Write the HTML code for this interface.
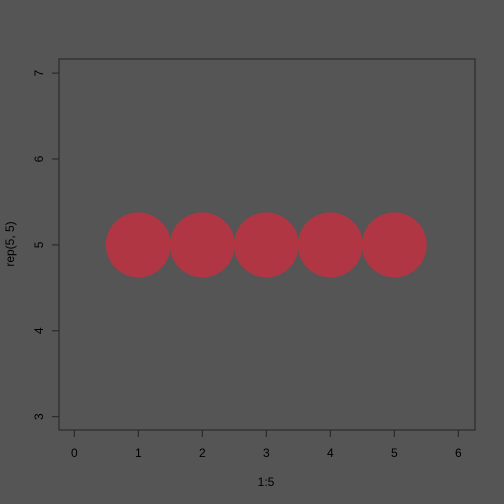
<!DOCTYPE html>
<html><head><style>body{margin:0;background:#555555}svg{display:block}text{font-family:"Liberation Sans",sans-serif;font-size:12px;fill:#000}</style></head>
<body>
<svg id="c" width="504" height="504" xmlns="http://www.w3.org/2000/svg">
<rect width="504" height="504" fill="#555555"/>
<g id="marks"></g>
<rect x="59" y="59" width="416" height="371" fill="none" stroke="#222" stroke-width="1"/>
<g id="axes"></g>
<text x="266" y="486" text-anchor="middle">1:5</text>
<text transform="translate(14,244) rotate(-90)" text-anchor="middle">rep(5, 5)</text>
</svg>
<script>
const xs=[1,2,3,4,5];
const ys=[5,5,5,5,5];
const xTicks=[0,1,2,3,4,5,6];
const yTicks=[3,4,5,6,7];
const sx=v=>74.3+v*64;
const sy=v=>416.7-(v-3)*85.9;
const NS="http://www.w3.org/2000/svg";
const m=document.getElementById('marks'),a=document.getElementById('axes');
xs.forEach((x,i)=>{const c=document.createElementNS(NS,'circle');
c.setAttribute('cx',sx(x));c.setAttribute('cy',sy(ys[i]));c.setAttribute('r',32.5);c.setAttribute('fill','#b03644');


m.appendChild(c);});
xTicks.forEach(t=>{const l=document.createElementNS(NS,'line');
l.setAttribute('x1',sx(t));l.setAttribute('x2',sx(t));l.setAttribute('y1',430);l.setAttribute('y2',437);l.setAttribute('stroke','#222');


a.appendChild(l);
const tx=document.createElementNS(NS,'text');tx.setAttribute('x',sx(t));tx.setAttribute('y',457);tx.setAttribute('text-anchor','middle');tx.textContent=t;


a.appendChild(tx);});
yTicks.forEach(t=>{const l=document.createElementNS(NS,'line');
l.setAttribute('x1',52);l.setAttribute('x2',59);l.setAttribute('y1',sy(t));l.setAttribute('y2',sy(t));l.setAttribute('stroke','#222');


a.appendChild(l);
const tx=document.createElementNS(NS,'text');tx.setAttribute('transform','translate(43,'+sy(t)+') rotate(-90)');tx.setAttribute('text-anchor','middle');tx.textContent=t;


a.appendChild(tx);});
</script>
</body></html>
